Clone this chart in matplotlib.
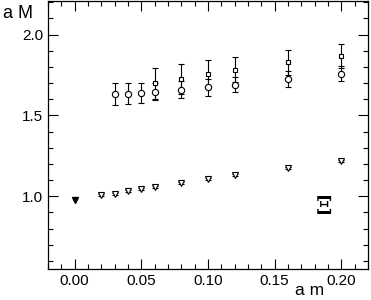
import matplotlib
matplotlib.use("Agg")
import matplotlib.pyplot as plt
from matplotlib.ticker import MultipleLocator

plt.rcParams['font.family'] = ['Liberation Sans', 'DejaVu Sans']

# circles
am_circ = [0.03, 0.04, 0.05, 0.06, 0.08, 0.10, 0.12, 0.16, 0.20]
aM_circ = [1.634, 1.634, 1.640, 1.646, 1.659, 1.675, 1.691, 1.726, 1.759]
err_circ = [0.068, 0.066, 0.060, 0.053, 0.052, 0.052, 0.047, 0.051, 0.045]

# squares
am_sq = [0.06, 0.08, 0.10, 0.12, 0.16, 0.20]
aM_sq = [1.700, 1.728, 1.759, 1.784, 1.829, 1.870]
err_sq = [0.096, 0.093, 0.085, 0.080, 0.078, 0.074]

# triangles
am_tri = [0.02, 0.03, 0.04, 0.05, 0.06, 0.08, 0.10, 0.12, 0.16, 0.20]
aM_tri = [1.006, 1.016, 1.031, 1.043, 1.057, 1.082, 1.107, 1.130, 1.175, 1.218]
err_tri = [0.006, 0.006, 0.006, 0.006, 0.006, 0.006, 0.006, 0.006, 0.006, 0.006]

# chiral limit
am_chi = [0.0]
aM_chi = [0.98]

fig = plt.figure(figsize=(3.71, 3.00), dpi=100)
ax = fig.add_axes([0.129, 0.103, 0.863, 0.895])

ax.errorbar(am_sq, aM_sq, yerr=err_sq, fmt="s", mfc="white", mec="black",
            ms=3.5, mew=0.8, ecolor="black", elinewidth=0.8, capsize=2.5, capthick=0.8)
ax.errorbar(am_circ, aM_circ, yerr=err_circ, fmt="o", mfc="white", mec="black",
            ms=4.5, mew=0.8, ecolor="black", elinewidth=0.8, capsize=2.5, capthick=0.8)
ax.errorbar(am_tri, aM_tri, yerr=err_tri, fmt="v", mfc="white", mec="black",
            ms=4, mew=0.8, ecolor="black", elinewidth=0.8, capsize=2, capthick=0.8)
ax.plot(am_chi, aM_chi, "v", color="black", ms=5)

ax.set_xlim(-0.02, 0.22)
ax.set_ylim(0.55, 2.21)
ax.xaxis.set_major_locator(MultipleLocator(0.05))
ax.xaxis.set_minor_locator(MultipleLocator(0.01))
ax.yaxis.set_major_locator(MultipleLocator(0.5))
ax.yaxis.set_minor_locator(MultipleLocator(0.1))
ax.xaxis.set_major_formatter(plt.FormatStrFormatter("%.2f"))
ax.yaxis.set_major_formatter(plt.FormatStrFormatter("%.1f"))
ax.tick_params(which="both", direction="in", top=True, right=True, labelsize=11, width=0.8)
ax.tick_params(which="major", length=7)
ax.tick_params(which="minor", length=3.5)
for s in ax.spines.values():
    s.set_linewidth(0.9)

fig.text(0.008, 0.94, "a M", fontsize=13)
fig.text(0.795, 0.018, "a m", fontsize=12.5)
ax.text(0.187, 0.936, "\u039e", fontsize=17, family="DejaVu Serif", weight="bold",
        ha="center", va="center")

fig.savefig("out.png", dpi=100)
